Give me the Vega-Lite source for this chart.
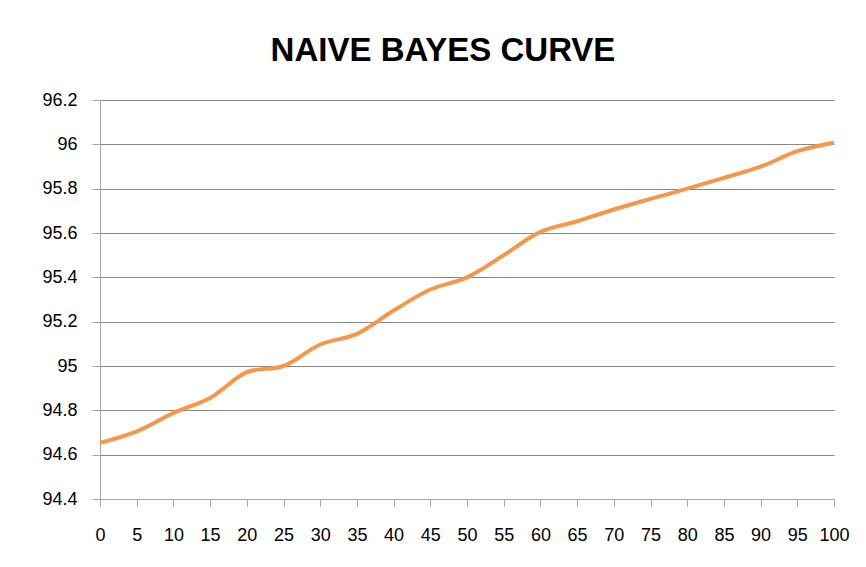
{
  "$schema": "https://vega.github.io/schema/vega-lite/v6.json",
  "width": 734,
  "height": 399,
  "autosize": {"type": "none"},
  "padding": {"left": 100, "top": 100, "right": 32, "bottom": 68},
  "background": "white",
  "title": {
    "text": "NAIVE BAYES CURVE",
    "font": "Liberation Sans",
    "fontSize": 33,
    "fontWeight": "bold",
    "color": "black",
    "anchor": "middle",
    "frame": "group",
    "baseline": "alphabetic",
    "offset": 38,
    "dx": -24,
    "dy": 41
  },
  "config": {
    "view": {"stroke": null},
    "axis": {
      "labelFont": "Liberation Sans",
      "labelFontSize": 18,
      "labelColor": "black",
      "domainColor": "#a6a6a6",
      "tickColor": "#a6a6a6",
      "gridColor": "#878787",
      "gridWidth": 1,
      "title": null
    }
  },
  "data": {
    "values": [
      {"pct": 0, "acc": 94.653},
      {"pct": 5, "acc": 94.705},
      {"pct": 10, "acc": 94.788},
      {"pct": 15, "acc": 94.856},
      {"pct": 20, "acc": 94.972},
      {"pct": 25, "acc": 95.0},
      {"pct": 30, "acc": 95.097},
      {"pct": 35, "acc": 95.145},
      {"pct": 40, "acc": 95.25},
      {"pct": 45, "acc": 95.345},
      {"pct": 50, "acc": 95.4},
      {"pct": 55, "acc": 95.5},
      {"pct": 60, "acc": 95.605},
      {"pct": 65, "acc": 95.653},
      {"pct": 70, "acc": 95.706},
      {"pct": 75, "acc": 95.754},
      {"pct": 80, "acc": 95.8},
      {"pct": 85, "acc": 95.849},
      {"pct": 90, "acc": 95.899},
      {"pct": 95, "acc": 95.969},
      {"pct": 100, "acc": 96.007}
    ]
  },
  "mark": {
    "type": "line",
    "color": "#F79646",
    "strokeWidth": 4,
    "interpolate": "catmull-rom"
  },
  "encoding": {
    "x": {
      "field": "pct",
      "type": "quantitative",
      "scale": {"domain": [0, 100], "nice": false},
      "axis": {
        "values": [0, 5, 10, 15, 20, 25, 30, 35, 40, 45, 50, 55, 60, 65, 70, 75, 80, 85, 90, 95, 100],
        "grid": false,
        "tickSize": 7,
        "labelPadding": 20,
        "labelFlush": false,
        "labelOverlap": false
      }
    },
    "y": {
      "field": "acc",
      "type": "quantitative",
      "scale": {"domain": [94.4, 96.2], "nice": false, "zero": false},
      "axis": {
        "values": [94.4, 94.6, 94.8, 95, 95.2, 95.4, 95.6, 95.8, 96, 96.2],
        "format": "~g",
        "grid": true,
        "tickSize": 8,
        "labelPadding": 15
      }
    }
  }
}
